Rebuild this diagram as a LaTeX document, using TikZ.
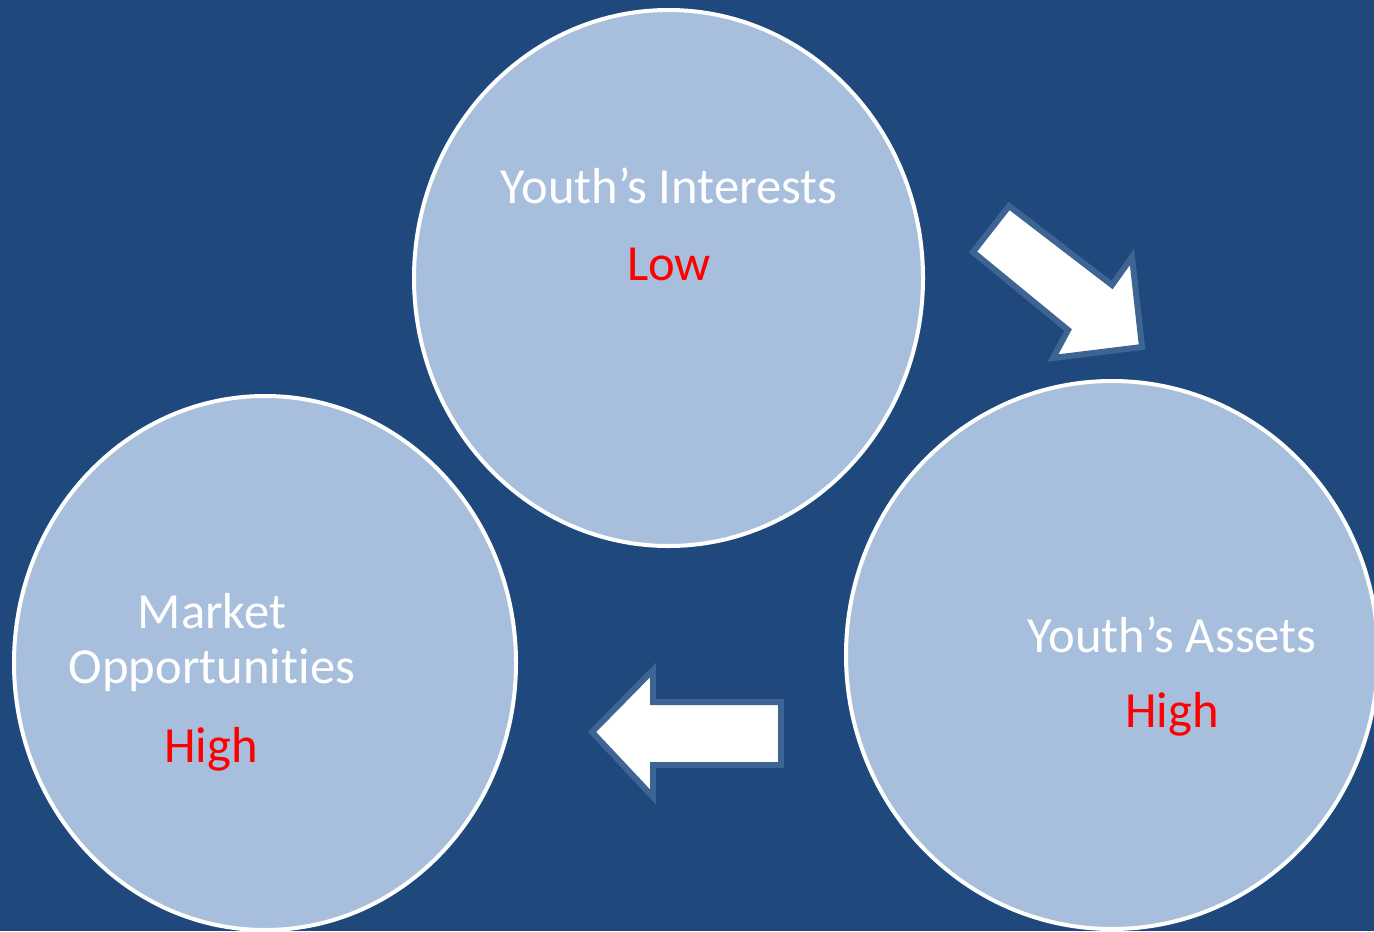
\documentclass[tikz,border=0pt]{standalone}
\usepackage{fontspec}
\setmainfont{Carlito}[Ligatures=NoCommon]
\usetikzlibrary{shapes.geometric}
\definecolor{bgblue}{HTML}{1F497D}
\definecolor{circfill}{HTML}{A7BFDD}
\definecolor{arrowedge}{HTML}{3D6493}
\definecolor{valred}{HTML}{FF0000}
\tikzset{
  bubble/.style={ellipse, draw=white, line width=2pt, fill=circfill, inner sep=0pt},
  blockarrow/.style={fill=white, draw=arrowedge, line width=3pt, line join=miter},
  title/.style={text=white, font=\fontsize{25.3}{27.5}\selectfont, anchor=base, align=center},
  value/.style={text=valred, font=\fontsize{25.3}{27.5}\selectfont, anchor=base}
}
\begin{document}
\begin{tikzpicture}[x=0.5pt, y=-0.5pt]
  \fill[bgblue] (0,0) rectangle (1374,931);
  \useasboundingbox (0,0) rectangle (1374,931);
  % circles
  \node[bubble, minimum width=509pt*0.5, minimum height=536pt*0.5] (top) at (668.5,278) {};
  \node[bubble, minimum width=502pt*0.5, minimum height=534pt*0.5] (left) at (265,663) {};
  \node[bubble, minimum width=532pt*0.5, minimum height=548pt*0.5] (right) at (1112,655) {};
  % arrows
  \draw[blockarrow] (1009,206) -- (973,252) -- (1068,330) -- (1053,358) -- (1142,347) -- (1132,257) -- (1112,285) -- cycle;
  \draw[blockarrow] (592,732) -- (653,670) -- (653,702) -- (781,702) -- (781,765) -- (653,765) -- (653,797) -- cycle;
  % texts
  \node[title] (t1) at (669,203) {Youth’s Interests};
  \node[value] (v1) at (669,280) {Low};
  \node[title] (t3) at (212,683) {Market\\Opportunities};
  \node[value] (v3) at (211,762) {High};
  \node[title] (t2) at (1172,652) {Youth’s Assets};
  \node[value] (v2) at (1172,727) {High};
\end{tikzpicture}
\end{document}
